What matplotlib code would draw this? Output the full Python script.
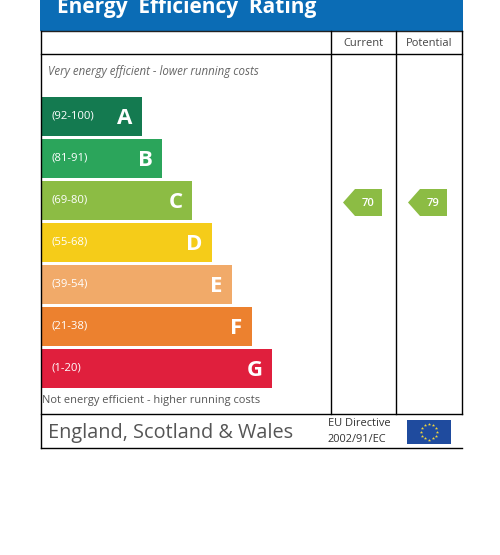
import numpy as np
import matplotlib
matplotlib.use("Agg")
import matplotlib.pyplot as plt
from matplotlib.patches import Rectangle, Polygon

# ---- data ----
bands = ["A", "B", "C", "D", "E", "F", "G"]
ranges = ["(92-100)", "(81-91)", "(69-80)", "(55-68)", "(39-54)", "(21-38)", "(1-20)"]
band_lows = [92, 81, 69, 55, 39, 21, 1]
band_colors = ["#147a50", "#2ba55b", "#8cbc44", "#f5cc19", "#f1aa69", "#ec812f", "#e01f3d"]
current_rating = 70
potential_rating = 79
title = "Energy  Efficiency  Rating"
col_headers = ["Current", "Potential"]
top_note = "Very energy efficient - lower running costs"
bottom_note = "Not energy efficient - higher running costs"
footer_left = "England, Scotland & Wales"
footer_mid = ["EU Directive", "2002/91/EC"]

# ---- layout ----
band_widths = [100, 120, 150, 170, 190, 210, 230]
FONT = "Open Sans"
plt.rcParams["font.family"] = [FONT, "DejaVu Sans"]

fig = plt.figure(figsize=(5.0, 5.55), dpi=100)
ax = fig.add_axes([0, 0, 1, 1])
ax.set_xlim(0, 500)
ax.set_ylim(555, 0)
ax.axis("off")

L, R = 40.5, 462
c1, c2 = 330.5, 395.5
top_y, head_y, foot_y, bot_y = 30.5, 54, 414, 447.5

# header band
ax.add_patch(Rectangle((40, -5), 423, 35.5, facecolor="#0b6cb5", edgecolor="none"))
ax.text(57, 12.5, title, color="white", fontsize=15, fontweight="bold",
        va="baseline", ha="left")

lw = 1.0
ax.plot([L, R], [top_y, top_y], color="#222222", lw=lw)
ax.plot([L, R], [head_y, head_y], color="black", lw=lw)
ax.plot([L, R], [foot_y, foot_y], color="black", lw=lw)
ax.plot([L, R], [bot_y, bot_y], color="black", lw=lw)
ax.plot([L, L], [top_y, bot_y], color="black", lw=lw)
ax.plot([R, R], [top_y, foot_y], color="black", lw=lw)
ax.plot([c1, c1], [top_y, foot_y], color="black", lw=lw)
ax.plot([c2, c2], [top_y, foot_y], color="black", lw=lw)

ax.text((c1 + c2) / 2, 43.5, col_headers[0], color="#444444", fontsize=8, ha="center", va="center")
ax.text((c2 + R) / 2, 43.5, col_headers[1], color="#444444", fontsize=8, ha="center", va="center")

ax.text(47.5, 72, top_note, color="#666666", fontsize=8.3, style="italic", ha="left", va="center")
ax.text(42, 400, bottom_note, color="#555555", fontsize=7.9, ha="left", va="center")

# bars
bar_left = 41.5
centers = [116.5 + 42 * i for i in range(len(bands))]
ax.barh(centers, band_widths, left=bar_left, height=39, color=band_colors, edgecolor="none")
for yc, w, rng, b in zip(centers, band_widths, ranges, bands):
    ax.text(51.5, yc, rng, color="white", fontsize=8.1, ha="left", va="center")
    ax.text(bar_left + w - 9, yc + 1.5, b, color="white", fontsize=16, fontweight="bold",
            ha="right", va="center")


def band_index(v):
    for i, lo in enumerate(band_lows):
        if v >= lo:
            return i
    return len(band_lows) - 1


def arrow(x_tip, value):
    i = band_index(value)
    yc = centers[i] + 2
    h = 13.5
    pts = [(x_tip, yc), (x_tip + 12, yc - h), (x_tip + 39, yc - h),
           (x_tip + 39, yc + h), (x_tip + 12, yc + h)]
    ax.add_patch(Polygon(pts, closed=True, facecolor=band_colors[i], edgecolor="none"))
    ax.text(x_tip + 25, yc + 0.5, str(value), color="white", fontsize=8,
            fontweight="semibold", ha="center", va="center")


arrow(343, current_rating)
arrow(408, potential_rating)

# footer
ax.text(47.5, 433, footer_left, color="#555555", fontsize=14.3, ha="left", va="center")
ax.text(327.5, 424, footer_mid[0], color="#333333", fontsize=7.9, ha="left", va="center")
ax.text(327.5, 439.5, footer_mid[1], color="#333333", fontsize=7.9, ha="left", va="center")

# EU flag
fx0, fy0, fw, fh = 407, 419.5, 44, 24
ax.add_patch(Rectangle((fx0, fy0), fw, fh, facecolor="#1f4b9e", edgecolor="none"))
ang = np.linspace(0, 2 * np.pi, 13)[:-1]
ax.scatter(fx0 + fw / 2 + 8 * np.cos(ang), fy0 + fh / 2 + 8 * np.sin(ang),
           marker="*", s=6, color="#f3d63c", linewidths=0)

fig.savefig("out.png", dpi=100)
